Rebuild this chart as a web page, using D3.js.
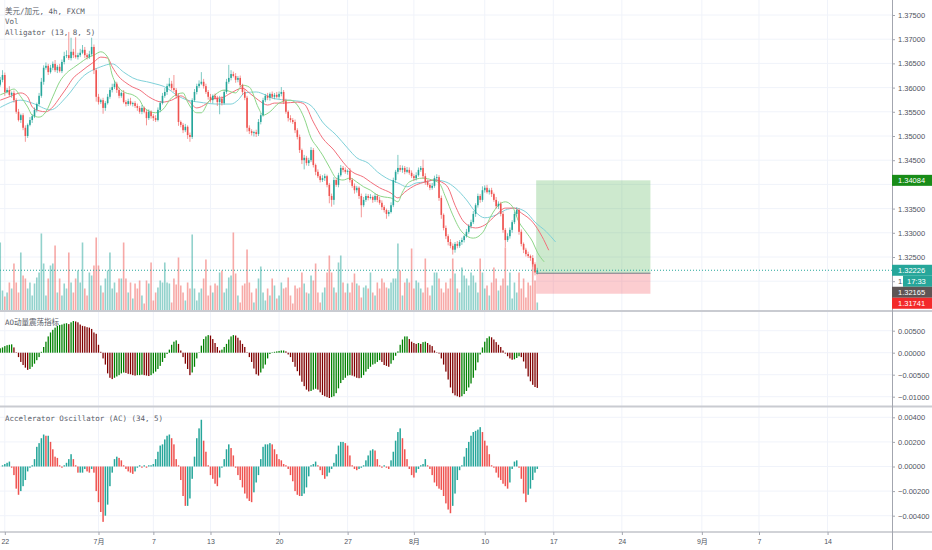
<!doctype html>
<html>
<head>
<meta charset="utf-8">
<style>
  body { margin: 0; background: #fff; }
  svg { display: block; font-family: "Liberation Sans", Arial, sans-serif; }
  .legend { font-family: "DejaVu Sans Mono", "Noto Sans CJK SC", monospace; font-size: 7.5px; fill: #5a5d68; }
  .axis text { font-size: 7.5px; fill: #50535e; font-family: "Liberation Sans", "Noto Sans CJK SC", sans-serif; }
  .axis line { stroke: #a3a6af; }
  .axis path { display: none; }
  .grid { stroke: #f0f3fa; stroke-width: 1; }
</style>
</head>
<body>
<svg id="chart" width="932" height="550"></svg>
<script src="https://d3js.org/d3.v7.min.js"></script>
<script>
// ---- data (USD/CAD 4h) ----
var firstBar = -2;          // bar index of first element, bar 0 = Jun 22
var firstOpen = 1.3606;
var closes = [
  1.3616,1.3626,1.3591,1.3595,1.3585,1.3589,1.3574,1.3550,1.3533,1.3543,
  1.3517,1.3500,1.3523,1.3533,1.3541,1.3554,1.3566,1.3583,1.3612,1.3641,
  1.3645,1.3632,1.3641,1.3649,1.3636,1.3643,1.3634,1.3653,1.3665,1.3667,
  1.3661,1.3674,1.3667,1.3663,1.3667,1.3672,1.3678,1.3667,1.3663,1.3669,
  1.3684,1.3636,1.3581,1.3570,1.3574,1.3558,1.3568,1.3581,1.3595,1.3601,
  1.3608,1.3595,1.3583,1.3589,1.3570,1.3566,1.3572,1.3566,1.3568,1.3562,
  1.3558,1.3550,1.3558,1.3550,1.3537,1.3550,1.3541,1.3537,1.3533,1.3554,
  1.3568,1.3583,1.3591,1.3603,1.3608,1.3599,1.3595,1.3583,1.3529,1.3523,
  1.3512,1.3519,1.3502,1.3498,1.3574,1.3591,1.3603,1.3608,1.3612,1.3603,
  1.3591,1.3581,1.3574,1.3583,1.3579,1.3570,1.3577,1.3568,1.3591,1.3612,
  1.3620,1.3628,1.3624,1.3616,1.3620,1.3605,1.3591,1.3579,1.3517,1.3510,
  1.3506,1.3508,1.3504,1.3529,1.3543,1.3574,1.3583,1.3579,1.3587,1.3581,
  1.3585,1.3581,1.3587,1.3591,1.3572,1.3550,1.3537,1.3533,1.3529,1.3512,
  1.3498,1.3471,1.3450,1.3455,1.3444,1.3450,1.3471,1.3440,1.3426,1.3417,
  1.3409,1.3413,1.3417,1.3399,1.3376,1.3368,1.3409,1.3399,1.3419,1.3434,
  1.3430,1.3426,1.3428,1.3409,1.3397,1.3388,1.3393,1.3376,1.3357,1.3368,
  1.3376,1.3372,1.3374,1.3368,1.3376,1.3368,1.3362,1.3353,1.3347,1.3339,
  1.3343,1.3357,1.3409,1.3426,1.3434,1.3430,1.3434,1.3426,1.3430,1.3424,
  1.3417,1.3413,1.3419,1.3430,1.3434,1.3417,1.3405,1.3399,1.3393,1.3397,
  1.3413,1.3415,1.3372,1.3337,1.3310,1.3293,1.3281,1.3273,1.3265,1.3277,
  1.3273,1.3281,1.3285,1.3293,1.3302,1.3314,1.3322,1.3339,1.3357,1.3376,
  1.3368,1.3388,1.3393,1.3384,1.3388,1.3380,1.3368,1.3355,1.3360,1.3339,
  1.3306,1.3285,1.3293,1.3306,1.3322,1.3339,1.3347,1.3302,1.3277,1.3265,
  1.3256,1.3252,1.3248,1.3235,1.3218,1.32226
];
// wick lengths beyond the body, in pips
var wickHi = [
  6,10,5,4,8,3,5,4,6,3, 4,5,3,6,4,5,3,6,8,5, 7,4,6,5,8,4,6,5,9,10,
  48,29,6,37,5,8,10,6,4,7, 19,5,4,6,3,5,4,6,5,7, 6,4,5,3,6,4,5,7,3,4,
  5,4,6,3,4,5,3,4,6,5, 4,6,8,5,12,6,27,4,5,3, 4,6,3,5,4,6,5,7,20,6,
  5,4,6,3,5,4,6,5,4,6, 27,8,5,6,4,5,3,6,4,5, 4,3,5,6,4,5,4,6,3,5,
  4,6,5,10,4,5,3,6,4,5, 4,5,3,6,4,5,6,4,3,5, 4,6,5,3,4,5,6,4,5,6,
  4,5,3,6,4,5,4,3,5,6, 5,4,6,3,5,4,6,5,4,3, 4,6,5,4,27,6,5,4,6,5,
  5,4,6,5,4,17,6,5,4,6, 5,6,4,5,3,5,4,6,5,4, 6,4,5,3,6,4,5,6,4,5,
  4,8,5,6,4,5,3,6,5,4, 5,4,6,5,4,5,6,4,5,3, 4,5,3,6,4,5
];
var wickLo = [
  4,5,8,3,4,6,5,4,3,6, 5,12,4,3,6,4,5,3,4,6, 4,6,3,5,4,6,3,4,5,4,
  4,5,6,3,5,4,3,6,5,4, 4,8,10,5,4,12,6,3,4,5, 4,6,5,4,3,5,4,3,5,4,
  6,4,5,3,15,4,5,6,4,3, 5,3,4,6,3,5,4,6,8,5, 6,4,8,10,4,3,5,4,3,5,
  4,6,5,7,4,8,25,5,3,4, 4,5,3,6,5,4,6,5,8,6, 5,7,6,4,5,3,4,5,6,4,
  5,3,4,5,6,4,7,5,4,6, 5,6,8,19,5,6,4,5,7,4, 5,4,6,5,15,14,10,4,5,3,
  5,4,6,5,4,7,5,6,25,4, 4,5,3,6,4,5,4,6,5,10, 5,3,4,6,5,4,6,5,3,4,
  4,6,5,3,4,5,6,4,5,4, 4,5,6,8,5,6,7,5,10,6, 5,4,6,5,3,4,5,4,6,5,
  6,4,5,3,5,6,4,5,6,5, 6,15,4,5,6,4,5,6,5,7, 5,4,6,5,6,4
];
var volumes = [
  68,20,14,18,28,22,47,28,18,58, 35,32,22,28,15,27,33,38,77,47, 15,32,45,47,65,18,32,15,27,22,
  58,28,18,32,40,28,68,22,15,38, 35,45,73,45,25,18,32,40,58,22, 28,18,32,32,68,32,18,28,12,27,
  22,30,15,7,30,27,48,10,18,23, 30,28,48,28,27,8,32,26,53,25, 18,10,28,22,76,22,10,18,22,32,
  51,15,25,18,27,25,38,40,18,22, 33,35,78,37,15,8,25,27,61,28, 18,8,22,32,44,18,10,22,15,32,
  25,12,15,28,22,23,33,15,7,25, 22,23,38,27,18,17,35,30,47,18, 8,18,23,38,55,38,23,18,48,55,
  28,18,27,18,28,37,27,25,13,23, 25,22,38,18,15,28,22,32,28,23, 22,28,32,32,67,40,15,28,32,28,
  62,22,30,28,22,18,52,23,15,25, 38,38,32,22,18,28,22,32,52,37, 22,18,43,35,32,25,38,35,28,18,
  52,38,22,25,15,28,43,32,20,25, 32,63,25,38,12,28,18,38,22,32, 13,28,25,52,30,8
];
var aoValues = [
  0.0010,0.0012,0.0015,0.0017,0.0018,0.0019,0.0012,0.0001,-0.0010,-0.0021,
  -0.0028,-0.0034,-0.0039,-0.0037,-0.0032,-0.0025,-0.0017,-0.0010,0.0002,0.0013,
  0.0025,0.0037,0.0046,0.0052,0.0057,0.0061,0.0063,0.0064,0.0066,0.0067,
  0.0065,0.0069,0.0072,0.0071,0.0069,0.0064,0.0061,0.0060,0.0058,0.0057,
  0.0054,0.0046,0.0043,0.0018,0.0002,-0.0013,-0.0027,-0.0047,-0.0057,-0.0060,
  -0.0057,-0.0054,-0.0051,-0.0047,-0.0045,-0.0046,-0.0048,-0.0049,-0.0051,-0.0052,
  -0.0051,-0.0051,-0.0050,-0.0051,-0.0052,-0.0053,-0.0051,-0.0047,-0.0043,-0.0037,
  -0.0030,-0.0021,-0.0012,-0.0003,0.0007,0.0018,0.0025,0.0028,0.0020,0.0005,
  -0.0010,-0.0025,-0.0037,-0.0051,-0.0045,-0.0032,-0.0013,0.0001,0.0016,0.0031,
  0.0037,0.0040,0.0039,0.0031,0.0022,0.0013,0.0005,0.0007,0.0013,0.0020,
  0.0030,0.0037,0.0040,0.0039,0.0034,0.0028,0.0020,0.0013,0.0001,-0.0010,
  -0.0021,-0.0036,-0.0049,-0.0052,-0.0045,-0.0036,-0.0027,-0.0013,-0.0003,0.0001,
  0.0002,0.0003,0.0004,0.0005,0.0005,0.0003,-0.0004,-0.0010,-0.0021,-0.0032,
  -0.0042,-0.0052,-0.0066,-0.0076,-0.0084,-0.0088,-0.0087,-0.0084,-0.0082,-0.0084,
  -0.0090,-0.0096,-0.0099,-0.0101,-0.0103,-0.0101,-0.0099,-0.0092,-0.0081,-0.0069,
  -0.0062,-0.0057,-0.0052,-0.0051,-0.0052,-0.0054,-0.0057,-0.0058,-0.0057,-0.0051,
  -0.0043,-0.0037,-0.0032,-0.0027,-0.0025,-0.0021,-0.0017,-0.0021,-0.0028,-0.0030,
  -0.0032,-0.0025,-0.0017,-0.0007,0.0003,0.0018,0.0030,0.0037,0.0037,0.0031,
  0.0025,0.0022,0.0020,0.0022,0.0020,0.0024,0.0025,0.0022,0.0018,0.0015,
  0.0005,0.0001,-0.0002,-0.0013,-0.0027,-0.0043,-0.0061,-0.0079,-0.0092,-0.0097,
  -0.0099,-0.0101,-0.0099,-0.0094,-0.0087,-0.0079,-0.0070,-0.0057,-0.0040,-0.0022,
  -0.0004,0.0012,0.0025,0.0033,0.0037,0.0035,0.0030,0.0024,0.0018,0.0013,
  0.0005,-0.0002,-0.0008,-0.0013,-0.0016,-0.0015,-0.0012,-0.0008,-0.0010,-0.0020,
  -0.0036,-0.0054,-0.0065,-0.0073,-0.0078,-0.0080
];
var acValues = [
  0.0000,0.0001,0.0002,0.0003,0.0004,-0.0001,-0.0007,-0.0018,-0.0023,-0.0020,
  -0.0016,-0.0011,-0.0004,-0.0001,0.0001,0.0006,0.0016,0.0019,0.0023,0.0026,
  0.0025,0.0025,0.0020,0.0014,0.0008,0.0007,0.0001,-0.0001,0.0001,0.0003,
  0.0006,0.0010,0.0006,0.0001,-0.0005,-0.0005,-0.0005,-0.0002,-0.0004,-0.0005,
  -0.0002,-0.0005,-0.0020,-0.0029,-0.0037,-0.0045,-0.0040,-0.0031,-0.0016,-0.0005,
  0.0006,0.0008,0.0007,0.0005,0.0001,-0.0002,-0.0004,-0.0005,-0.0006,-0.0004,
  -0.0001,0.0001,-0.0001,0.0001,-0.0001,0.0001,0.0001,0.0002,0.0006,0.0012,
  0.0017,0.0018,0.0022,0.0025,0.0026,0.0023,0.0018,0.0006,0.0001,-0.0011,
  -0.0024,-0.0032,-0.0032,-0.0026,-0.0010,0.0008,0.0023,0.0031,0.0038,0.0021,
  0.0012,0.0001,-0.0007,-0.0010,-0.0014,-0.0016,-0.0009,-0.0001,0.0006,0.0014,
  0.0018,0.0015,0.0009,-0.0001,-0.0007,-0.0011,-0.0017,-0.0022,-0.0026,-0.0028,
  -0.0029,-0.0021,-0.0013,-0.0007,0.0006,0.0016,0.0018,0.0018,0.0019,0.0018,
  0.0014,0.0010,0.0006,0.0005,0.0002,0.0001,-0.0002,-0.0007,-0.0012,-0.0020,
  -0.0023,-0.0024,-0.0024,-0.0022,-0.0017,-0.0008,0.0001,0.0002,0.0004,0.0001,
  -0.0003,-0.0007,-0.0010,-0.0008,-0.0005,-0.0002,0.0003,0.0010,0.0017,0.0020,
  0.0020,0.0019,0.0017,0.0009,0.0001,-0.0002,-0.0003,-0.0002,-0.0001,0.0001,
  0.0005,0.0009,0.0013,0.0014,0.0013,0.0006,0.0001,-0.0001,0.0001,-0.0001,
  -0.0002,0.0005,0.0012,0.0021,0.0028,0.0031,0.0023,0.0014,0.0006,-0.0002,
  -0.0007,-0.0009,-0.0005,-0.0002,0.0001,0.0002,0.0006,0.0001,-0.0002,-0.0007,
  -0.0013,-0.0016,-0.0018,-0.0019,-0.0024,-0.0030,-0.0035,-0.0038,-0.0032,-0.0022,
  -0.0011,-0.0003,0.0001,0.0008,0.0015,0.0020,0.0025,0.0028,0.0029,0.0030,
  0.0032,0.0028,0.0021,0.0017,0.0010,0.0001,-0.0001,-0.0005,-0.0009,-0.0011,
  -0.0014,-0.0016,-0.0018,-0.0013,-0.0002,0.0004,0.0005,-0.0001,-0.0010,-0.0022,
  -0.0029,-0.0023,-0.0018,-0.0011,-0.0005,-0.0002
];
// Alligator lines (bar index, price)
var jawBars = [-2,7,12,20,27,34,42,47,52,56,64,71,75,80,85,93,99,102,105,110,114,118,124,131,135,139,145,150,154,159,163,167,172,176,180,184,188,193,197,202,206,210,215,219,223,228,232,237,241];
var jawValues = [1.3559,1.3574,1.3568,1.3554,1.3581,1.3622,1.3643,1.3649,1.3632,1.3620,1.3610,1.3599,1.3585,1.3574,1.3570,1.3566,1.3566,1.3574,1.3589,1.3591,1.3585,1.3577,1.3574,1.3570,1.3558,1.3529,1.3502,1.3475,1.3455,1.3444,1.3426,1.3413,1.3403,1.3395,1.3403,1.3405,1.3409,1.3405,1.3393,1.3368,1.3343,1.3331,1.3337,1.3347,1.3351,1.3343,1.3322,1.3302,1.3281];
var teethBars = [-2,2,7,10,12,15,18,21,24,27,30,33,36,39,42,45,47,50,53,56,59,63,69,73,77,80,84,88,91,95,99,104,107,111,115,118,122,128,131,135,139,144,148,152,157,160,164,169,172,175,180,184,188,191,194,197,201,206,210,215,219,223,226,231,235,238];
var teethValues = [1.3574,1.3581,1.3589,1.3581,1.3560,1.3552,1.3550,1.3560,1.3579,1.3599,1.3620,1.3632,1.3643,1.3653,1.3663,1.3661,1.3643,1.3622,1.3610,1.3601,1.3595,1.3581,1.3570,1.3574,1.3583,1.3574,1.3558,1.3566,1.3577,1.3579,1.3589,1.3599,1.3589,1.3574,1.3564,1.3568,1.3568,1.3570,1.3566,1.3529,1.3496,1.3471,1.3446,1.3426,1.3415,1.3405,1.3393,1.3382,1.3372,1.3384,1.3399,1.3405,1.3409,1.3405,1.3393,1.3357,1.3322,1.3310,1.3316,1.3337,1.3351,1.3351,1.3341,1.3322,1.3293,1.3264];
var lipsBars = [-2,1,4,7,10,12,15,18,21,24,27,30,33,36,39,42,45,47,50,53,56,59,61,66,69,73,78,80,84,86,89,92,96,101,104,107,111,113,116,120,125,128,131,134,137,139,142,145,148,151,154,157,160,163,166,169,172,174,177,183,187,190,193,196,200,205,209,213,216,219,222,225,228,231,233,236];
var lipsValues = [1.3585,1.3591,1.3597,1.3581,1.3560,1.3543,1.3539,1.3550,1.3581,1.3612,1.3630,1.3641,1.3651,1.3661,1.3667,1.3674,1.3663,1.3626,1.3599,1.3589,1.3585,1.3574,1.3558,1.3548,1.3554,1.3579,1.3589,1.3570,1.3548,1.3548,1.3570,1.3585,1.3595,1.3589,1.3605,1.3601,1.3558,1.3543,1.3550,1.3568,1.3574,1.3564,1.3537,1.3496,1.3475,1.3461,1.3436,1.3413,1.3409,1.3413,1.3405,1.3395,1.3388,1.3378,1.3374,1.3372,1.3364,1.3384,1.3405,1.3413,1.3409,1.3403,1.3372,1.3337,1.3302,1.3289,1.3300,1.3337,1.3357,1.3364,1.3355,1.3322,1.3302,1.3281,1.3260,1.3240];

var timeTickBars = [0, 41, 65, 90, 120, 150, 179, 210, 240, 270, 305, 330, 360];
var timeTickLabels = ["22", "7月", "7", "13", "20", "27", "8月", "10", "17", "24", "9月", "7", "14"];
var priceTicks = [1.320, 1.325, 1.330, 1.335, 1.340, 1.345, 1.350, 1.355, 1.360, 1.365, 1.370, 1.375];
var aoTicks = [0.005, 0, -0.005, -0.010];
var acTicks = [0.004, 0.002, 0, -0.002, -0.004];

var lastPrice = 1.32226, countdown = "17:33";
var posStartBar = 232.5, posEndBar = 282.5;
var posTarget = 1.34084, posEntry = 1.32165, posStop = 1.31741;

var upColor = "#26a69a", downColor = "#ef5350";

// ---- layout ----
var plotW = 892, mainBottom = 311, aoBottom = 406.5, acBottom = 532;

var svg = d3.select("#chart");
svg.append("rect").attr("width", 932).attr("height", 550).attr("fill", "#fff");

var x = d3.scaleLinear().domain([-2.1, 388.2]).range([0, plotW]);
var y = d3.scaleLinear().domain([1.325, 1.375]).range([257, 15]);
var yVol = d3.scaleLinear().domain([0, 80]).range([310.5, 230.5]);
var yAO = d3.scaleLinear().domain([-0.010, 0.005]).range([396.7, 330.7]);
var yAC = d3.scaleLinear().domain([-0.004, 0.004]).range([515.7, 417.3]);

var defs = svg.append("defs");
function clip(id, x0, y0, x1, y1) {
  defs.append("clipPath").attr("id", id).append("rect")
    .attr("x", x0).attr("y", y0).attr("width", x1 - x0).attr("height", y1 - y0);
}
clip("clipMain", 0, 0, plotW, mainBottom);
clip("clipAO", 0, mainBottom, plotW, aoBottom);
clip("clipAC", 0, aoBottom, plotW, acBottom);
clip("clipAxis", plotW, 0, 903, 550);   // part of the price axis left of the countdown box

// grid
var grid = svg.append("g");
grid.selectAll("line.v").data(timeTickBars).enter().append("line")
  .attr("class", "grid")
  .attr("x1", function(d) { return x(d); }).attr("x2", function(d) { return x(d); })
  .attr("y1", 0).attr("y2", acBottom);
function hGrid(ticks, scale, top, bottom) {
  grid.selectAll(null).data(ticks.filter(function(t) { var p = scale(t); return p > top && p < bottom; }))
    .enter().append("line").attr("class", "grid")
    .attr("x1", 0).attr("x2", plotW)
    .attr("y1", function(d) { return scale(d); }).attr("y2", function(d) { return scale(d); });
}
hGrid(priceTicks, y, 0, mainBottom);
hGrid(aoTicks, yAO, mainBottom, aoBottom);
hGrid(acTicks, yAC, aoBottom, acBottom);

// candles
var candles = closes.map(function(c, k) {
  var o = k === 0 ? firstOpen : closes[k - 1];
  return {
    i: firstBar + k, o: o, c: c,
    h: Math.max(o, c) + wickHi[k] * 0.0001,
    l: Math.min(o, c) - wickLo[k] * 0.0001,
    v: volumes[k]
  };
});

var main = svg.append("g").attr("clip-path", "url(#clipMain)");
var bw = 1.6;

// volume
main.selectAll("rect.vol").data(candles).enter().append("rect")
  .attr("x", function(d) { return x(d.i) - bw / 2; })
  .attr("width", bw)
  .attr("y", function(d) { return yVol(d.v); })
  .attr("height", function(d) { return yVol(0) - yVol(d.v); })
  .attr("fill", function(d) { return d.c >= d.o ? upColor : downColor; })
  .attr("fill-opacity", 0.5);

// long position tool
main.append("rect")
  .attr("x", x(posStartBar)).attr("width", x(posEndBar) - x(posStartBar))
  .attr("y", y(posTarget)).attr("height", y(posEntry) - y(posTarget))
  .attr("fill", "#4caf50").attr("fill-opacity", 0.28);
main.append("rect")
  .attr("x", x(posStartBar)).attr("width", x(posEndBar) - x(posStartBar))
  .attr("y", y(posEntry)).attr("height", y(posStop) - y(posEntry))
  .attr("fill", "#f23645").attr("fill-opacity", 0.25);
main.append("line")
  .attr("x1", x(posStartBar)).attr("x2", x(posEndBar))
  .attr("y1", y(posEntry)).attr("y2", y(posEntry))
  .attr("stroke", "#787b86").attr("stroke-width", 1);

// alligator
function drawLine(bars, vals, color) {
  var pts = bars.map(function(b, k) { return [b, vals[k]]; });
  main.append("path").datum(pts)
    .attr("fill", "none").attr("stroke", color).attr("stroke-width", 1)
    .attr("d", d3.line()
      .x(function(d) { return x(d[0]); })
      .y(function(d) { return y(d[1]); })
      .curve(d3.curveMonotoneX));
}
drawLine(jawBars, jawValues, "#7fd1d9");
drawLine(teethBars, teethValues, "#f2707c");
drawLine(lipsBars, lipsValues, "#8cd688");

// candle wicks and bodies
main.selectAll("line.wick").data(candles).enter().append("line")
  .attr("x1", function(d) { return x(d.i); }).attr("x2", function(d) { return x(d.i); })
  .attr("y1", function(d) { return y(d.h); }).attr("y2", function(d) { return y(d.l); })
  .attr("stroke", function(d) { return d.c >= d.o ? upColor : downColor; })
  .attr("stroke-width", 0.8).attr("stroke-opacity", 0.75);
main.selectAll("rect.body").data(candles).enter().append("rect")
  .attr("x", function(d) { return x(d.i) - bw / 2; })
  .attr("width", bw)
  .attr("y", function(d) { return y(Math.max(d.o, d.c)); })
  .attr("height", function(d) { return Math.max(0.8, Math.abs(y(d.o) - y(d.c))); })
  .attr("fill", function(d) { return d.c >= d.o ? upColor : downColor; });

// current price dotted line
main.append("line")
  .attr("x1", 0).attr("x2", plotW)
  .attr("y1", y(lastPrice)).attr("y2", y(lastPrice))
  .attr("stroke", upColor).attr("stroke-width", 1).attr("stroke-dasharray", "1,2");

// AO histogram
var aoG = svg.append("g").attr("clip-path", "url(#clipAO)");
aoG.selectAll("rect").data(aoValues).enter().append("rect")
  .attr("x", function(d, k) { return x(firstBar + k) - 0.65; })
  .attr("width", 1.3)
  .attr("y", function(d) { return yAO(Math.max(d, 0)); })
  .attr("height", function(d) { return Math.abs(yAO(d) - yAO(0)); })
  .attr("fill", function(d, k) { return (k === 0 || d >= aoValues[k - 1]) ? "#008000" : "#800000"; });

// AC histogram
var acG = svg.append("g").attr("clip-path", "url(#clipAC)");
acG.selectAll("rect").data(acValues).enter().append("rect")
  .attr("x", function(d, k) { return x(firstBar + k) - 0.75; })
  .attr("width", 1.5)
  .attr("y", function(d) { return yAC(Math.max(d, 0)); })
  .attr("height", function(d) { return Math.abs(yAC(d) - yAC(0)); })
  .attr("fill", function(d, k) { return (k === 0 || d >= acValues[k - 1]) ? upColor : downColor; });

// separators and axis lines
svg.append("line").attr("x1", 0).attr("x2", 932).attr("y1", mainBottom).attr("y2", mainBottom)
  .attr("stroke", "#c9cbd1").attr("stroke-width", 2);
svg.append("line").attr("x1", 0).attr("x2", 932).attr("y1", aoBottom).attr("y2", aoBottom)
  .attr("stroke", "#c9cbd1").attr("stroke-width", 2);
svg.append("line").attr("x1", 0).attr("x2", 932).attr("y1", acBottom).attr("y2", acBottom)
  .attr("stroke", "#a3a6af").attr("stroke-width", 1);
svg.append("line").attr("x1", plotW + 0.5).attr("x2", plotW + 0.5).attr("y1", 0).attr("y2", 550)
  .attr("stroke", "#a3a6af").attr("stroke-width", 1);

// price axes
var fmt = d3.format(".5f");
var pAxis = svg.append("g").attr("class", "axis").attr("transform", "translate(" + plotW + ",0)")
  .call(d3.axisRight(y).tickValues(priceTicks).tickFormat(fmt).tickSize(3).tickPadding(3));
// 1.34000 sits fully under the target label; 1.32000 is cut by the countdown box
pAxis.selectAll(".tick").filter(function(d) { return Math.abs(d - 1.340) < 1e-9; })
  .select("text").remove();
pAxis.selectAll(".tick").filter(function(d) { return Math.abs(d - 1.320) < 1e-9; })
  .select("text").text("1.").attr("clip-path", null);
svg.append("g").attr("class", "axis").attr("transform", "translate(" + plotW + ",0)")
  .call(d3.axisRight(yAO).tickValues(aoTicks).tickFormat(fmt).tickSize(3).tickPadding(3));
svg.append("g").attr("class", "axis").attr("transform", "translate(" + plotW + ",0)")
  .call(d3.axisRight(yAC).tickValues(acTicks).tickFormat(fmt).tickSize(3).tickPadding(3));

// time axis
svg.append("g").attr("class", "axis").attr("transform", "translate(0," + acBottom + ")")
  .call(d3.axisBottom(x).tickValues(timeTickBars)
    .tickFormat(function(d, k) { return timeTickLabels[k]; })
    .tickSize(3).tickPadding(4))
  .selectAll("text").style("font-size", "7px");

// legends
var legend = svg.append("g").attr("class", "legend");
legend.append("text").attr("x", 5).attr("y", 13.5).text("美元/加元, 4h, FXCM");
legend.append("text").attr("x", 5).attr("y", 24).text("Vol");
legend.append("text").attr("x", 5).attr("y", 35).text("Alligator (13, 8, 5)");
legend.append("text").attr("x", 5).attr("y", 325).text("AO动量震荡指标");
legend.append("text").attr("x", 5).attr("y", 421).text("Accelerator Oscillator (AC) (34, 5)");

// price labels on the axis
function priceLabel(yc, txt, color, x0) {
  var g = svg.append("g");
  g.append("rect").attr("x", x0).attr("y", yc - 5.5).attr("width", 932 - x0).attr("height", 11)
    .attr("fill", color);
  g.append("text").attr("x", x0 + (x0 > plotW ? 4 : 6)).attr("y", yc + 2.6).text(txt)
    .attr("fill", "#fff").style("font-size", "7.5px");
}
priceLabel(y(posTarget), fmt(posTarget), "#188c18", plotW);
priceLabel(y(lastPrice), fmt(lastPrice), upColor, plotW);
priceLabel(y(lastPrice) + 11, countdown, upColor, 903);
priceLabel(y(lastPrice) + 22, fmt(posEntry), "#5e5555", plotW);
priceLabel(y(lastPrice) + 33, fmt(posStop), "#f32a2a", plotW);
</script>
</body>
</html>
